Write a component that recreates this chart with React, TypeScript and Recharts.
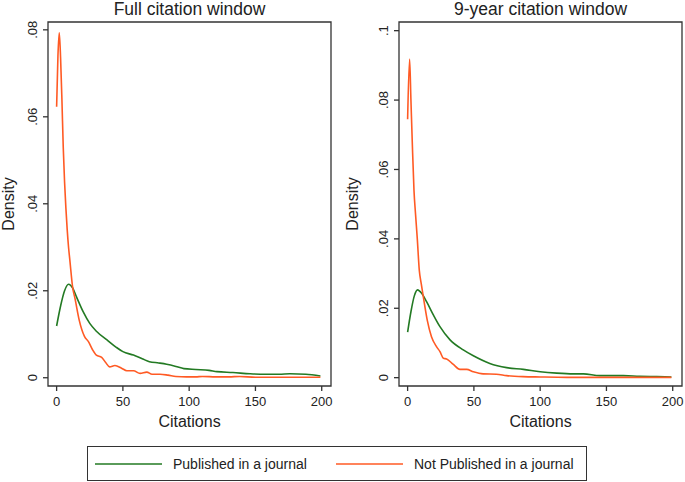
import React from 'react';
import { LineChart, Line, XAxis, YAxis, Label, ReferenceArea } from 'recharts';

// Full citation window, published in a journal
const fullPubX = [0, 3, 6, 9, 12, 15, 20, 25, 30, 38, 45, 50, 58, 65, 70, 77, 83, 90, 96, 105, 115, 121, 133, 146, 158, 168, 176, 188, 199];
const fullPubY = [0.0119, 0.0165, 0.02, 0.0215, 0.0207, 0.0186, 0.0152, 0.0125, 0.0107, 0.0087, 0.007, 0.006, 0.0052, 0.0043, 0.0037, 0.0034, 0.0031, 0.0026, 0.0021, 0.0019, 0.0017, 0.0014, 0.0012, 0.0009, 0.0008, 0.0008, 0.0009, 0.0008, 0.0004];

// Full citation window, not published
const fullNotX = [0, 1, 2, 3, 4, 5, 6, 7, 8, 9, 10, 12, 14, 17, 21, 24, 27, 30, 34, 37, 40, 44, 49, 53, 58, 63, 68, 72, 78, 84, 90, 98, 105, 110, 120, 130, 138, 150, 170, 185, 199];
const fullNotY = [0.0623, 0.074, 0.0793, 0.0735, 0.064, 0.053, 0.045, 0.039, 0.034, 0.03, 0.027, 0.021, 0.018, 0.0133, 0.0095, 0.0083, 0.0065, 0.0052, 0.0047, 0.0035, 0.0025, 0.0028, 0.0022, 0.0016, 0.0016, 0.001, 0.0013, 0.0008, 0.0008, 0.0006, 0.0003, 0.0002, 0.0002, 0.0003, 0.0002, 0.0002, 0.0003, 0.0001, 0.0001, 0.0001, 0.0001];

// 9-year window, published
const ninePubX = [0, 2.5, 5, 7.5, 10.6, 14.3, 19.4, 24.4, 32, 42, 49.6, 62, 74.7, 87.3, 100, 112.5, 125, 132.6, 145, 162.8, 175, 188, 199];
const ninePubY = [0.0131, 0.019, 0.0235, 0.0253, 0.0243, 0.0219, 0.0181, 0.0147, 0.0109, 0.008, 0.0063, 0.0041, 0.0029, 0.0024, 0.0017, 0.0013, 0.0011, 0.0011, 0.0006, 0.0006, 0.0004, 0.0003, 0.0002];

// 9-year window, not published
const nineNotX = [0, 1.5, 2.5, 3.5, 4.8, 6, 7.3, 8.8, 10.3, 11.8, 14.8, 18, 21.9, 24.4, 27, 29.4, 34.5, 39.5, 44.5, 49.6, 57, 67, 74.7, 87, 100, 120, 150, 199];
const nineNotY = [0.0745, 0.0918, 0.08, 0.068, 0.054, 0.047, 0.04, 0.031, 0.027, 0.0234, 0.0166, 0.0118, 0.0089, 0.0075, 0.0056, 0.0054, 0.0038, 0.0024, 0.0024, 0.0017, 0.0011, 0.001, 0.0006, 0.0003, 0.0002, 0.0001, 0.0001, 0.0001];

const xTicks = [0, 50, 100, 150, 200];
const xDomain: [number, number] = [-6.5, 207];
const fullYTicks = [0, 0.02, 0.04, 0.06, 0.08];
const nineYTicks = [0, 0.02, 0.04, 0.06, 0.08, 0.1];

const seriesNames = ['Published in a journal', 'Not Published in a journal'];
const GREEN = '#237a23';
const ORANGE = '#ff5a24';
const AXIS = '#333333';
const TEXT = '#222222';
const FONT = '"Liberation Sans", Arial, sans-serif';

const PLOT_TOP = 22;
const PLOT_BOTTOM = 386;
const CHART_H = 440;

const zip = (xs: number[], ys: number[]) => xs.map((x, i) => ({ x, y: ys[i] }));

const fmtY = (v: number) => (v === 0 ? '0' : String(v).replace(/^0/, ''));

// y tick: short outward mark plus a label turned on its side, Stata style
const makeYTick = (plotLeft: number) => (props: any) => {
  const { y, payload } = props;
  const tx = plotLeft - 11;
  return (
    <g>
      <line x1={plotLeft - 5} x2={plotLeft} y1={y} y2={y} stroke={AXIS} strokeWidth={1.3} />
      <text
        x={tx}
        y={y}
        transform={`rotate(-90 ${tx} ${y})`}
        textAnchor="middle"
        fontSize={13}
        fill={TEXT}
        fontFamily={FONT}
      >
        {fmtY(payload.value)}
      </text>
    </g>
  );
};

const XTick = (props: any) => {
  const { x, payload } = props;
  return (
    <g>
      <line x1={x} x2={x} y1={PLOT_BOTTOM} y2={PLOT_BOTTOM + 5} stroke={AXIS} strokeWidth={1.3} />
      <text x={x} y={PLOT_BOTTOM + 20} textAnchor="middle" fontSize={13} fill={TEXT} fontFamily={FONT}>
        {payload.value}
      </text>
    </g>
  );
};

interface PanelProps {
  title: string;
  pub: { x: number; y: number }[];
  notPub: { x: number; y: number }[];
  yDomain: [number, number];
  yTicks: number[];
  width: number;
  yAxisWidth: number;
  rightMargin: number;
  left: number;
  labelOffset: number;
}

function Panel({ title, pub, notPub, yDomain, yTicks, width, yAxisWidth, rightMargin, left, labelOffset }: PanelProps) {
  const plotCenter = yAxisWidth + (width - yAxisWidth - rightMargin) / 2;
  const YTick = makeYTick(yAxisWidth);
  return (
    <div style={{ position: 'absolute', left, top: 0, width, height: CHART_H }}>
      <div
        style={{
          position: 'absolute',
          left: 0,
          top: 0,
          width: plotCenter * 2,
          textAlign: 'center',
          fontSize: 17.5,
          lineHeight: '18px',
          color: TEXT,
        }}
      >
        {title}
      </div>
      <LineChart
        width={width}
        height={CHART_H}
        margin={{ top: PLOT_TOP, right: rightMargin, left: 0, bottom: 0 }}
      >
        <XAxis
          xAxisId="b"
          type="number"
          dataKey="x"
          domain={xDomain}
          ticks={xTicks}
          height={CHART_H - PLOT_BOTTOM}
          axisLine={false}
          tickLine={false}
          tick={<XTick />}
          allowDataOverflow
        >
          <Label value="Citations" position="insideBottom" offset={13} style={{ fontSize: 16, fill: TEXT, fontFamily: FONT }} />
        </XAxis>
        <YAxis
          yAxisId="l"
          type="number"
          domain={yDomain}
          ticks={yTicks}
          width={yAxisWidth}
          axisLine={false}
          tickLine={false}
          tick={<YTick />}
          allowDataOverflow
        >
          <Label
            value="Density"
            angle={-90}
            position="insideLeft"
            offset={labelOffset}
            style={{ fontSize: 16, fill: TEXT, fontFamily: FONT, textAnchor: 'middle' }}
          />
        </YAxis>
        <ReferenceArea
          xAxisId="b"
          yAxisId="l"
          x1={xDomain[0]}
          x2={xDomain[1]}
          y1={yDomain[0]}
          y2={yDomain[1]}
          fill="none"
          fillOpacity={0}
          stroke={AXIS}
          strokeWidth={1.3}
          ifOverflow="visible"
        />
        <Line
          xAxisId="b"
          yAxisId="l"
          data={pub}
          dataKey="y"
          name={seriesNames[0]}
          type="monotone"
          stroke={GREEN}
          strokeWidth={1.6}
          dot={false}
          isAnimationActive={false}
        />
        <Line
          xAxisId="b"
          yAxisId="l"
          data={notPub}
          dataKey="y"
          name={seriesNames[1]}
          type="monotone"
          stroke={ORANGE}
          strokeWidth={1.6}
          dot={false}
          isAnimationActive={false}
        />
      </LineChart>
    </div>
  );
}

export default function App() {
  return (
    <div
      style={{
        position: 'absolute',
        left: 0,
        top: 0,
        width: 685,
        height: 482,
        background: '#fff',
        fontFamily: FONT,
        overflow: 'hidden',
      }}
    >
      <Panel
        title="Full citation window"
        pub={zip(fullPubX, fullPubY)}
        notPub={zip(fullNotX, fullNotY)}
        yDomain={[-0.0019, 0.0818]}
        yTicks={fullYTicks}
        width={340}
        yAxisWidth={48}
        rightMargin={9}
        left={0}
        labelOffset={8.5}
      />
      <Panel
        title="9-year citation window"
        pub={zip(ninePubX, ninePubY)}
        notPub={zip(nineNotX, nineNotY)}
        yDomain={[-0.0024, 0.1025]}
        yTicks={nineYTicks}
        width={345}
        yAxisWidth={59}
        rightMargin={3}
        left={340}
        labelOffset={12.5}
      />
      <div
        style={{
          position: 'absolute',
          left: 87,
          top: 446,
          width: 498,
          height: 33,
          border: `1px solid ${AXIS}`,
          fontSize: 14,
          color: TEXT,
        }}
      >
        {[GREEN, ORANGE].map((c, i) => (
          <div
            key={i}
            style={{
              position: 'absolute',
              left: i === 0 ? 7 : 248,
              top: 0,
              height: 33,
              display: 'flex',
              alignItems: 'center',
              whiteSpace: 'nowrap',
            }}
          >
            <svg width={68} height={4} style={{ marginRight: 10 }}>
              <line x1={0} y1={2} x2={67} y2={2} stroke={c} strokeWidth={1.6} />
            </svg>
            <span>{seriesNames[i]}</span>
          </div>
        ))}
      </div>
    </div>
  );
}
